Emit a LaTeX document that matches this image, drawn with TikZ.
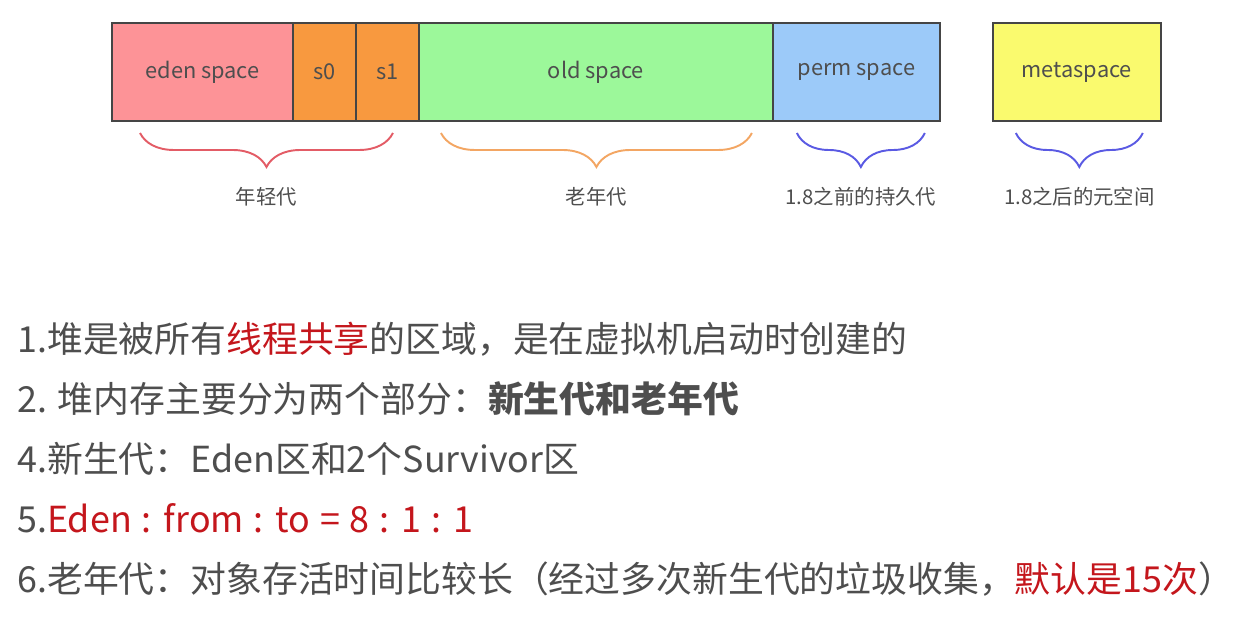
\documentclass[tikz,border=0pt]{standalone}
\usepackage{fontspec}
\setmainfont{Noto Sans CJK SC}
\usetikzlibrary{positioning,decorations.pathreplacing}

\definecolor{edenred}{HTML}{FD9397}
\definecolor{survorange}{HTML}{F8993F}
\definecolor{oldgreen}{HTML}{9CF89A}
\definecolor{permblue}{HTML}{9CCAF9}
\definecolor{metayellow}{HTML}{FAFA6E}
\definecolor{edgegray}{HTML}{454545}
\definecolor{txtgray}{HTML}{4E4E4E}
\definecolor{hotred}{HTML}{C4161C}
\definecolor{bracered}{HTML}{E35C66}
\definecolor{braceorange}{HTML}{F3A663}
\definecolor{braceblue}{HTML}{5A5AE3}

\begin{document}
\begin{tikzpicture}[x=0.02cm,y=0.02cm,node distance=0pt]
  \tikzstyle{space}=[draw=edgegray,line width=1.2pt,minimum height=1.96cm,outer sep=0pt,inner sep=0pt,text=txtgray,font=\fontsize{12.4}{14}\selectfont]
  \tikzstyle{gen}=[decorate,decoration={brace,mirror,amplitude=0.68cm},line width=1.1pt]
  \tikzstyle{genlabel}=[text=txtgray,font=\fontsize{11.6}{13}\selectfont,midway,yshift=-1.28cm]
  \tikzstyle{line}=[anchor=base west,inner sep=0pt,text=txtgray,font=\fontsize{20.4}{24}\selectfont]

  \useasboundingbox (0,0) rectangle (1241,-620);

  % heap layout
  \node[space,fill=edenred,minimum width=3.62cm] (eden) at (202.5,-72) {eden space};
  \node[space,fill=survorange,minimum width=1.26cm,right=of eden] (s0) {s0};
  \node[space,fill=survorange,minimum width=1.26cm,right=of s0] (s1) {s1};
  \node[space,fill=oldgreen,minimum width=7.08cm,right=of s1] (old) {old space};
  \node[space,fill=permblue,minimum width=3.34cm,right=of old] (perm) {perm space};
  \node[space,fill=metayellow,minimum width=3.36cm,right=1.06cm of perm] (meta) {metaspace};

  % generations
  \draw[gen,draw=bracered] ([xshift=0.56cm,yshift=-0.24cm]eden.south west)
    -- node[genlabel] {年轻代} ([xshift=-0.52cm,yshift=-0.24cm]s1.south east);
  \draw[gen,draw=braceorange] ([xshift=0.44cm,yshift=-0.24cm]old.south west)
    -- node[genlabel] {老年代} ([xshift=-0.42cm,yshift=-0.24cm]old.south east);
  \draw[gen,draw=braceblue] ([xshift=0.48cm,yshift=-0.24cm]perm.south west)
    -- node[genlabel] {1.8之前的持久代} ([xshift=-0.30cm,yshift=-0.24cm]perm.south east);
  \draw[gen,draw=braceblue] ([xshift=0.46cm,yshift=-0.24cm]meta.south west)
    -- node[genlabel] {1.8之后的元空间} ([xshift=-0.36cm,yshift=-0.24cm]meta.south east);

  % notes
  \node[line] (n1) at (17,-352) {1.堆是被所有\textcolor{hotred}{线程共享}的区域，是在虚拟机启动时创建的};
  \node[line] (n2) at (17,-412) {2. 堆内存主要分为两个部分：\textbf{新生代和老年代}};
  \node[line] (n4) at (17,-472) {4.新生代：Eden区和2个Survivor区};
  \node[line] (n5) at (17,-532) {5.\textcolor{hotred}{\spaceskip=0.27em\relax Eden : from : to = 8 : 1 : 1}};
  \node[line] (n6) at (17,-592) {6.老年代：对象存活时间比较长（经过多次新生代的垃圾收集，\textcolor{hotred}{默认是15次}）};
\end{tikzpicture}
\end{document}
